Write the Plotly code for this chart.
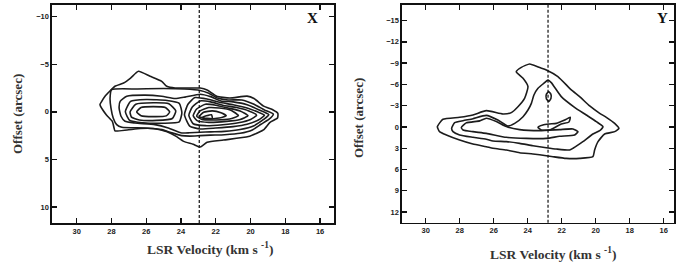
import plotly.graph_objects as go

# ---------------- data (velocity km/s, offset arcsec) ----------------
# Left panel "X": contour lines
x_c1_v = [28.66, 28.56, 28.37, 28.1, 27.8, 27.3, 26.9, 26.45, 25.78, 25.11, 24.82, 24.34, 23.77, 22.9, 22.5, 21.95, 21.2, 20.2, 19.8, 19.25, 18.7, 18.43, 18.45, 18.88, 19.26, 20.12, 21.56, 22.5, 22.9, 23.3, 23.85, 24.25, 24.8, 25.6, 26.35, 27.1, 27.8, 27.85, 27.95, 28.3, 28.66]
x_c1_o = [-0.76, -1.11, -1.64, -2.16, -2.69, -3.03, -3.55, -4.26, -3.74, -3.21, -2.69, -2.51, -2.51, -2.5, -2.3, -1.65, -1.45, -1.65, -1.4, -0.6, -0.2, 0.15, 0.65, 1.1, 1.9, 2.6, 2.96, 3.2, 3.7, 3.4, 3.1, 2.6, 2.1, 1.75, 1.75, 1.9, 2.0, 1.7, 1.0, 0.3, -0.76]

x_c2_v = [27.99, 26.5, 25.0, 23.8, 22.9, 22.4, 21.9, 21.3, 20.5, 19.8, 19.2, 18.69, 18.95, 19.4, 19.9, 20.6, 21.5, 22.3, 22.9, 23.5, 23.96, 24.53, 25.1, 26.07, 27.4, 27.7, 27.9, 28.03, 28.08, 27.99]
x_c2_o = [-2.33, -2.4, -2.45, -2.4, -2.25, -1.95, -1.45, -1.25, -1.25, -0.8, -0.2, 0.25, 0.8, 1.3, 1.9, 2.25, 2.4, 2.45, 2.5, 2.55, 2.5, 2.2, 1.87, 1.69, 1.62, 1.34, 0.64, -0.41, -1.46, -2.33]

x_c3_v = [27.5, 27.12, 26.07, 25.11, 24.34, 23.77, 22.9, 22.3, 21.7, 21.0, 20.2, 19.5, 18.95, 19.25, 19.8, 20.6, 21.5, 22.3, 22.9, 23.5, 23.96, 24.73, 25.5, 26.65, 27.22, 27.45, 27.56, 27.5]
x_c3_o = [-1.11, -1.64, -1.76, -1.64, -1.4, -1.55, -1.85, -1.6, -1.15, -1.05, -0.75, -0.2, 0.3, 0.8, 1.45, 1.85, 2.05, 2.1, 2.15, 2.2, 2.22, 1.69, 1.34, 1.17, 0.99, 0.46, -0.41, -1.11]

x_c4_v = [27.2, 26.9, 26.0, 24.8, 24.1, 23.95, 24.1, 25.0, 26.2, 26.95, 27.2]
x_c4_o = [0.0, -1.1, -1.3, -1.2, -0.9, 0.1, 1.05, 1.2, 1.15, 0.9, 0.0]

x_c5_v = [26.93, 26.6, 25.6, 24.7, 24.3, 24.5, 25.4, 26.4, 26.85, 26.93]
x_c5_o = [0.0, -0.8, -0.95, -0.85, -0.1, 0.7, 0.9, 0.85, 0.55, 0.0]

x_c6_v = [26.55, 26.3, 25.6, 24.9, 24.65, 24.85, 25.6, 26.3, 26.55]
x_c6_o = [0.0, -0.45, -0.55, -0.45, 0.0, 0.42, 0.5, 0.4, 0.0]

x_r1_v = [23.8, 23.6, 23.2, 22.5, 21.8, 21.0, 20.2, 19.6, 19.2, 19.55, 20.2, 21.0, 22.0, 22.9, 23.5, 23.8]
x_r1_o = [0.3, -0.8, -1.5, -1.35, -1.0, -0.75, -0.4, 0.0, 0.35, 0.85, 1.3, 1.55, 1.7, 1.8, 1.5, 0.3]

x_r2_v = [23.55, 23.35, 22.9, 22.3, 21.6, 20.8, 20.1, 19.65, 20.0, 20.7, 21.6, 22.6, 23.3, 23.55]
x_r2_o = [0.35, -0.5, -1.15, -1.05, -0.7, -0.45, -0.1, 0.35, 0.8, 1.15, 1.35, 1.45, 1.25, 0.35]

x_r3_v = [23.3, 23.1, 22.6, 22.0, 21.3, 20.6, 20.15, 20.6, 21.4, 22.4, 23.05, 23.3]
x_r3_o = [0.4, -0.3, -0.8, -0.7, -0.4, -0.1, 0.4, 0.8, 1.0, 1.1, 0.95, 0.4]

x_r4_v = [23.1, 22.9, 22.4, 21.8, 21.1, 20.7, 21.2, 22.0, 22.8, 23.1]
x_r4_o = [0.45, -0.1, -0.45, -0.4, -0.15, 0.4, 0.75, 0.85, 0.8, 0.45]

x_r5_v = [22.95, 22.7, 22.2, 21.7, 21.4, 21.8, 22.5, 22.95]
x_r5_o = [0.5, 0.05, -0.1, 0.1, 0.4, 0.65, 0.75, 0.5]

x_r6_v = [22.8, 22.25, 22.2, 22.8]
x_r6_o = [0.6, 0.3, 0.7, 0.6]

# Right panel "Y"
y_c1_v = [29.31, 28.98, 28.0, 27.22, 26.43, 25.45, 24.96, 24.57, 24.18, 23.98, 24.27, 24.67, 24.37, 23.88, 23.29, 22.9, 22.22, 21.43, 20.94, 20.35, 19.76, 19.37, 18.88, 18.63, 18.88, 19.47, 19.86, 20.06, 20.16, 20.94, 21.73, 22.51, 22.9, 23.69, 24.47, 25.25, 26.04, 26.43, 27.22, 28.0, 28.78, 29.18, 29.31]
y_c1_o = [-0.04, -1.08, -1.36, -1.69, -2.3, -1.83, -2.02, -2.86, -4.04, -5.69, -6.86, -7.8, -8.41, -8.89, -8.37, -8.04, -7.1, -5.22, -4.28, -2.96, -1.92, -1.36, -0.51, 0.19, 0.66, 0.99, 2.07, 3.25, 4.19, 4.43, 4.43, 4.19, 4.05, 3.81, 3.63, 3.25, 3.01, 2.78, 2.4, 1.84, 1.13, 0.66, -0.04]

y_c2_v = [28.47, 28.29, 27.8, 27.22, 26.43, 25.75, 25.16, 24.76, 24.27, 23.98, 23.78, 23.63, 23.39, 23.1, 22.8, 22.61, 22.02, 21.24, 20.55, 19.96, 19.57, 19.76, 20.16, 20.75, 21.33, 21.53, 22.31, 22.9, 23.69, 24.47, 25.25, 26.04, 26.43, 27.22, 28.0, 28.39, 28.47]
y_c2_o = [0.19, -0.6, -0.89, -1.17, -1.64, -0.98, -0.14, -0.51, -1.45, -2.39, -3.33, -4.51, -5.45, -6.06, -6.6, -6.25, -4.28, -2.77, -1.69, -0.75, -0.04, 0.52, 0.99, 2.07, 3.01, 3.25, 3.11, 2.92, 2.64, 2.31, 2.07, 1.98, 1.74, 1.46, 1.13, 0.66, 0.19]

y_c3_v = [27.9, 27.61, 26.82, 26.43, 25.84, 25.25, 24.47, 23.29, 22.12, 21.33, 21.04, 21.24, 22.12, 22.9, 24.08, 25.25, 26.43, 27.22, 27.8, 27.9]
y_c3_o = [0.08, -0.58, -0.86, -1.24, -0.77, -0.06, 0.37, 0.52, 0.37, 0.28, 0.66, 1.13, 1.32, 1.61, 1.61, 1.46, 0.9, 0.66, 0.42, 0.08]

y_c4_v = [23.39, 23.1, 22.71, 22.31, 21.82, 21.49, 21.57, 22.02, 22.71, 23.2, 23.39]
y_c4_o = [0.05, -0.28, -0.42, -0.51, -0.98, -1.36, -0.7, -0.42, 0.43, 0.43, 0.05]

y_c5_v = [22.76, 22.63, 22.63, 22.76, 22.9, 22.9, 22.76]
y_c5_o = [-5.0, -4.6, -4.0, -3.6, -4.0, -4.6, -5.0]

v_sys_x = 22.95
v_sys_y = 22.8

vel_ticks = [30, 28, 26, 24, 22, 20, 18, 16]
x_off_ticks = [-10, -5, 0, 5, 10]
y_off_ticks = [-15, -12, -9, -6, -3, 0, 3, 6, 9, 12]

# ---------------- figure ----------------
fig = go.Figure()
LINE = dict(color="#1c1c1c", width=1.6)

left_sets = [(x_c1_v, x_c1_o), (x_c2_v, x_c2_o), (x_c3_v, x_c3_o), (x_c4_v, x_c4_o),
             (x_c5_v, x_c5_o), (x_c6_v, x_c6_o), (x_r1_v, x_r1_o), (x_r2_v, x_r2_o),
             (x_r3_v, x_r3_o), (x_r4_v, x_r4_o), (x_r5_v, x_r5_o), (x_r6_v, x_r6_o)]
right_sets = [(y_c1_v, y_c1_o), (y_c2_v, y_c2_o), (y_c3_v, y_c3_o), (y_c4_v, y_c4_o), (y_c5_v, y_c5_o)]

for v, o in left_sets:
    fig.add_trace(go.Scatter(x=v, y=o, mode="lines", line=dict(**LINE, shape="spline", smoothing=0.5),
                             xaxis="x", yaxis="y", showlegend=False, hoverinfo="skip"))
for v, o in right_sets:
    fig.add_trace(go.Scatter(x=v, y=o, mode="lines", line=dict(**LINE, shape="spline", smoothing=0.5),
                             xaxis="x2", yaxis="y2", showlegend=False, hoverinfo="skip"))

W, H = 683, 268
tickfont = dict(family="Liberation Sans, Arial, sans-serif", size=7.5, color="#222", weight="bold")
common = dict(showgrid=False, zeroline=False, showline=True, linecolor="#111", linewidth=1.6,
              mirror="ticks", ticks="inside", ticklen=5, tickwidth=1.4, tickcolor="#111",
              tickfont=tickfont, fixedrange=True)

fig.update_layout(
    width=W, height=H, margin=dict(l=0, r=0, t=0, b=0),
    paper_bgcolor="white", plot_bgcolor="white",
    xaxis=dict(domain=[52 / W, 334 / W], range=[31.42, 15.2], tickvals=vel_ticks,
               anchor="y", **common),
    yaxis=dict(domain=[1 - 223 / H, 1 - 5 / H], range=[11.68, -11.23], tickvals=x_off_ticks,
               anchor="x", **common),
    xaxis2=dict(domain=[402 / W, 674 / W], range=[31.39, 15.39], tickvals=vel_ticks,
                anchor="y2", **common),
    yaxis2=dict(domain=[1 - 222.7 / H, 1 - 5 / H], range=[13.5, -17.2], tickvals=y_off_ticks,
                anchor="x2", **common),
)

dash = dict(color="#111", width=1.2, dash="3px,2px")
fig.add_shape(type="line", xref="x", yref="y domain", x0=v_sys_x, x1=v_sys_x, y0=0, y1=1, line=dash)
fig.add_shape(type="line", xref="x2", yref="y2 domain", x0=v_sys_y, x1=v_sys_y, y0=0, y1=1, line=dash)

serif = "Liberation Serif, Times New Roman, serif"
title_font = dict(family=serif, size=13.5, color="#333", weight="bold")
fig.add_annotation(text="LSR Velocity (km s <sup>-1</sup>)", x=210 / W, y=1 - 248 / H, xref="paper", yref="paper",
                   showarrow=False, font=title_font, xanchor="center", yanchor="middle")
fig.add_annotation(text="LSR Velocity (km s <sup>-1</sup>)", x=553 / W, y=1 - 253 / H, xref="paper", yref="paper",
                   showarrow=False, font=title_font, xanchor="center", yanchor="middle")
ytitle_font = dict(family=serif, size=13, color="#333", weight="bold")
fig.add_annotation(text="Offset (arcsec)", x=17 / W, y=1 - 114 / H, xref="paper", yref="paper",
                   showarrow=False, font=ytitle_font, textangle=-90, xanchor="center", yanchor="middle")
fig.add_annotation(text="Offset (arcsec)", x=358 / W, y=1 - 118 / H, xref="paper", yref="paper",
                   showarrow=False, font=ytitle_font, textangle=-90, xanchor="center", yanchor="middle")
panel_font = dict(family=serif, size=15, color="#111", weight="bold")
fig.add_annotation(text="X", x=312 / W, y=1 - 18 / H, xref="paper", yref="paper", showarrow=False,
                   font=panel_font, xanchor="center", yanchor="middle")
fig.add_annotation(text="Y", x=662 / W, y=1 - 18 / H, xref="paper", yref="paper", showarrow=False,
                   font=panel_font, xanchor="center", yanchor="middle")

fig.write_html("out.html", config={"displayModeBar": False, "staticPlot": True},
               post_script="document.body.style.margin='0';document.body.style.padding='0';")
